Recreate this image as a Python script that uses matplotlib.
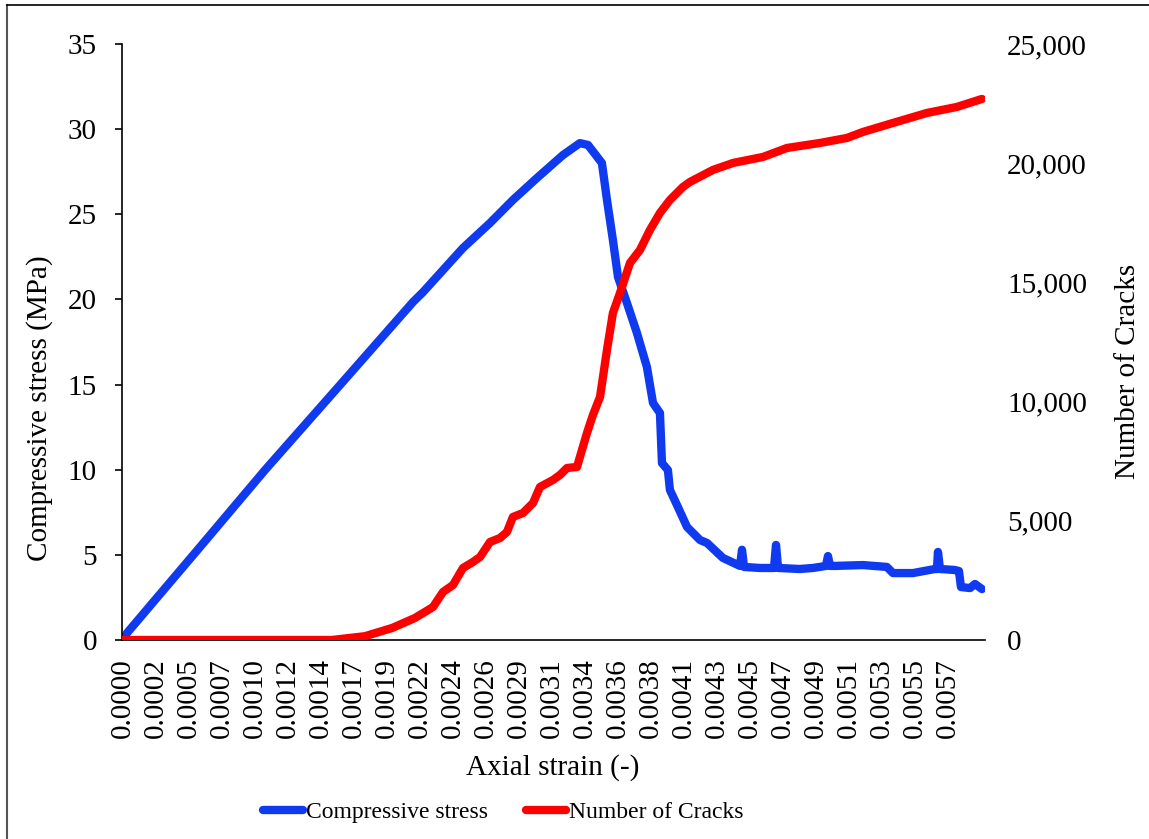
import numpy as np
import matplotlib.pyplot as plt
from matplotlib.lines import Line2D

plt.rcParams['font.family'] = ['Liberation Serif', 'DejaVu Serif']

# stress-strain curve (strain, MPa)
stress_strain = [0.0, 0.0000276, 0.000532, 0.000981, 0.001499, 0.002004, 0.002073,
                 0.002349, 0.002536, 0.002694, 0.002860, 0.003040, 0.003157, 0.003213,
                 0.003309, 0.003344, 0.003385, 0.003420, 0.003482, 0.003551, 0.003620,
                 0.003655, 0.003662, 0.003710, 0.003724, 0.003765, 0.003779, 0.003834,
                 0.003897, 0.003987, 0.004035, 0.004145, 0.004263, 0.004277, 0.004291,
                 0.004401, 0.004498, 0.004512, 0.004526, 0.004677, 0.004767, 0.004857,
                 0.004871, 0.004885, 0.004919, 0.005113, 0.005278, 0.005320, 0.005458,
                 0.005610, 0.005624, 0.005631, 0.005645, 0.005748, 0.005776, 0.005790,
                 0.005852, 0.005887, 0.005935]
stress = [0.0, 0.41, 5.46, 9.98, 14.97, 19.85, 20.43,
          23.02, 24.49, 25.84, 27.13, 28.48, 29.18, 29.07,
          28.01, 25.84, 23.49, 21.32, 19.79, 18.03, 16.03,
          14.27, 13.92, 13.33, 10.39, 9.98, 8.81, 7.81,
          6.64, 5.87, 5.70, 4.82, 4.35, 5.30, 4.29,
          4.23, 4.23, 5.58, 4.23, 4.17, 4.23, 4.35,
          4.93, 4.35, 4.35, 4.40, 4.29, 3.93, 3.93,
          4.17, 4.17, 5.17, 4.17, 4.11, 4.05, 3.11,
          3.05, 3.29, 2.99]

# crack count (strain, number)
crack_strain = [0.0, 0.001444, 0.001672, 0.001859, 0.002017, 0.002142, 0.002211,
                0.002280, 0.002349, 0.002418, 0.002467, 0.002536, 0.002605, 0.002653,
                0.002694, 0.002764, 0.002833, 0.002881, 0.002971, 0.003019, 0.003068,
                0.003137, 0.003157, 0.003206, 0.003247, 0.003296, 0.003344, 0.003385,
                0.003434, 0.003503, 0.003572, 0.003641, 0.003710, 0.003779, 0.003869,
                0.003917, 0.004076, 0.004215, 0.004422, 0.004588, 0.004816, 0.005002,
                0.005113, 0.005320, 0.005555, 0.005762, 0.005935]
cracks = [0, 0, 160, 503, 923, 1384, 2014,
          2307, 3020, 3272, 3482, 4111, 4279, 4531,
          5160, 5328, 5747, 6418, 6712, 6922, 7215,
          7257, 7677, 8684, 9439, 10194, 12166, 13718,
          14557, 15815, 16361, 17200, 17913, 18458, 19003,
          19213, 19717, 20010, 20262, 20639, 20849, 21059,
          21311, 21688, 22108, 22360, 22695]

xtick_labels = ['0.0000', '0.0002', '0.0005', '0.0007', '0.0010', '0.0012', '0.0014',
                '0.0017', '0.0019', '0.0022', '0.0024', '0.0026', '0.0029', '0.0031',
                '0.0034', '0.0036', '0.0038', '0.0041', '0.0043', '0.0045', '0.0047',
                '0.0049', '0.0051', '0.0053', '0.0055', '0.0057']
tick_step = 0.000228

W, H = 1149, 839
fig = plt.figure(figsize=(W / 100, H / 100), dpi=100)
ax1 = fig.add_axes([122 / W, 1 - 640 / H, (985 - 122) / W, (640 - 44) / H])
ax2 = ax1.twinx()

fs = 21
blue = '#0F3AF0'
red = '#FF0000'

l1, = ax1.plot(stress_strain, stress, color=blue, lw=6, solid_capstyle='round',
               solid_joinstyle='round', label='Compressive stress')
l2, = ax2.plot(crack_strain, cracks, color=red, lw=6, solid_capstyle='round',
               solid_joinstyle='round', label='Number of Cracks')

ax1.set_xlim(-0.000007, 0.005956)
ax1.set_ylim(0, 35)
ax2.set_ylim(0, 25000)
ax1.set_yticks(range(0, 36, 5))
ax2.set_yticks(range(0, 25001, 5000))
ax2.set_yticklabels(['{:,}'.format(v) for v in range(0, 25001, 5000)])

ax1.set_xticks(np.arange(len(xtick_labels)) * tick_step)
ax1.set_xticklabels(xtick_labels, rotation=90)

for s in ['top', 'right']:
    ax1.spines[s].set_visible(False)
for s in ax2.spines.values():
    s.set_visible(False)
ax1.spines['left'].set_linewidth(1.2)
ax1.spines['bottom'].set_linewidth(1.2)
ax1.tick_params(axis='y', direction='out', length=5, width=1.2, pad=13, labelsize=fs)
ax1.tick_params(axis='x', length=0, pad=13, labelsize=fs)
ax2.tick_params(axis='y', length=0, pad=16, labelsize=fs)

fig.text(40 / W, 1 - 408 / H, 'Compressive stress (MPa)', rotation=90,
         ha='center', va='center', fontsize=fs)
fig.text(1128 / W, 1 - 371 / H, 'Number of Cracks', rotation=90,
         ha='center', va='center', fontsize=fs)
fig.text(553 / W, 1 - 768 / H, 'Axial strain (-)', ha='center', va='center', fontsize=fs)

fig.legend(handles=[l1, l2], loc='center', bbox_to_anchor=(503 / W, 1 - 812 / H),
           ncol=2, frameon=False, fontsize=17, handlelength=1.7, handletextpad=0.12,
           columnspacing=1.6, borderpad=0)

# outer frame
fig.add_artist(Line2D([7 / W, 7 / W], [0, 1 - 5 / H], color='#555555', lw=1.5))
fig.add_artist(Line2D([7 / W, 1], [1 - 5 / H, 1 - 5 / H], color='black', lw=1.2))

fig.savefig('out.png', dpi=100)
